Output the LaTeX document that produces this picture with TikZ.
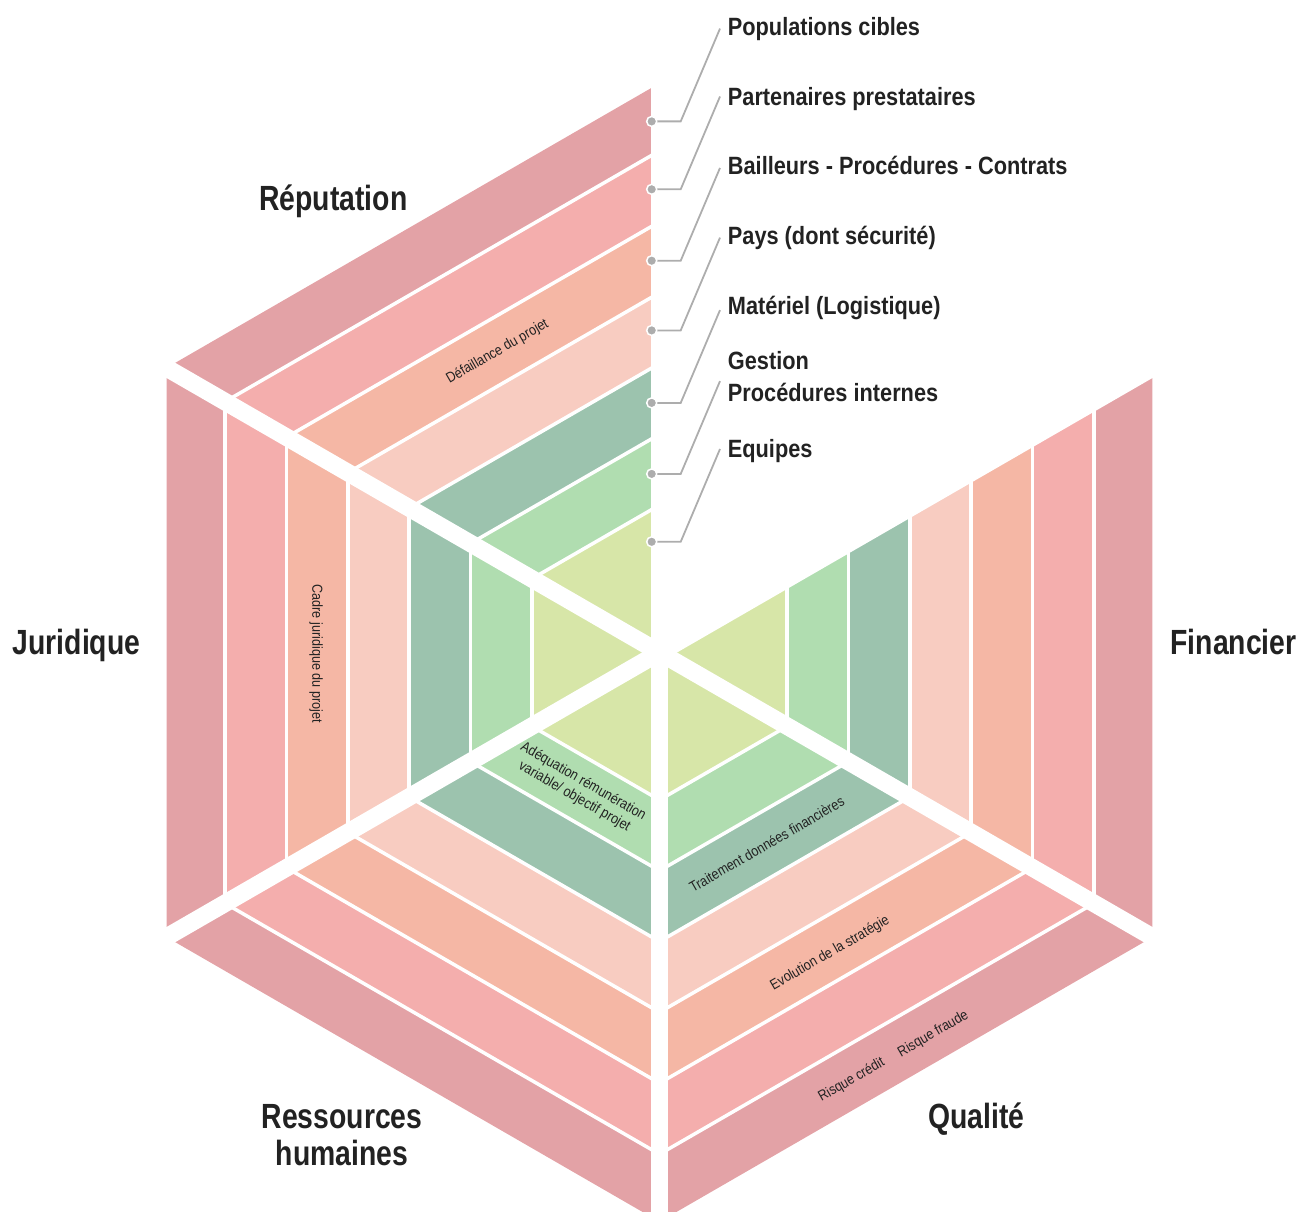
\documentclass[tikz,border=0pt]{standalone}
\usepackage{fontspec}
\setmainfont{Liberation Sans}
\newfontfamily\bigfont[FakeStretch=0.81]{Liberation Sans}
\newfontfamily\midfont[FakeStretch=0.87]{Liberation Sans}
\newfontfamily\smallfont[FakeStretch=0.87]{Liberation Sans}
\definecolor{bandA}{HTML}{E3A2A6}
\definecolor{bandB}{HTML}{F4AEAD}
\definecolor{bandC}{HTML}{F5B7A5}
\definecolor{bandD}{HTML}{F8CCC1}
\definecolor{bandE}{HTML}{9CC3AE}
\definecolor{bandF}{HTML}{B0DDB0}
\definecolor{bandG}{HTML}{D7E6A8}
\definecolor{dotgray}{HTML}{ADADAD}
\definecolor{ink}{HTML}{222222}
\begin{document}
\begin{tikzpicture}[x=1pt,y=1pt,
  biglabel/.style={font=\bigfont\bfseries\fontsize{35}{37.4}\selectfont, text=ink, inner sep=0pt, align=center, anchor=base},
  midlabel/.style={font=\midfont\bfseries\fontsize{25}{32.2}\selectfont, text=ink, inner sep=0pt, anchor=base west, align=left},
  smalllabel/.style={font=\smallfont\fontsize{14.5}{17.5}\selectfont, text=ink, inner sep=0pt, align=center},
  ldot/.style={circle, fill=dotgray, draw=white, line width=1.5pt, inner sep=0pt, minimum size=10pt},
  conn/.style={draw=dotgray, line width=1.8pt},
  bandsep/.style={white, line width=3.5pt},
  radgap/.style={white, line width=17.5pt}
]
\useasboundingbox (0,-1212) rectangle (1298,0);
\clip (0,-1212) rectangle (1298,0);
\begin{scope}[shift={(659.5,-652.5)}]
  \foreach \sa in {90,150,210,270,330}{
    \foreach \ain/\aout/\col in {0/127.7/bandG, 127.7/189/bandF, 189/250.3/bandE, 250.3/311.6/bandD, 311.6/373/bandC, 373/434.5/bandB, 434.5/493/bandA}{
      \fill[\col] (\sa:{\aout/cos(30)}) -- ({\sa+60}:{\aout/cos(30)}) -- ({\sa+60}:{\ain/cos(30)}) -- (\sa:{\ain/cos(30)}) -- cycle;
    }
    \foreach \a in {127.7,189,250.3,311.6,373,434.5}{
      \draw[bandsep] (\sa:{\a/cos(30)}) -- ({\sa+60}:{\a/cos(30)});
    }
  }
  \foreach \ang in {30,90,150,210,270,330}{
    \draw[radgap] (0,0) -- (\ang:{493/cos(30)+3});
  }
\end{scope}

% connectors
\foreach \i/\yd in {1/121.4, 2/189.3, 3/260.7, 4/330.4, 5/402.9, 6/473.9, 7/541.8}{
  \coordinate (p\i) at (651.7,-\yd);
  \coordinate (b\i) at (680.7,-\yd);
  \coordinate (e\i) at (720,{-\yd+92.8});
  \draw[conn] (p\i) -- (b\i) -- (e\i);
  \node[ldot] (d\i) at (p\i) {};
}

\node[midlabel] (l1) at (727.7,-35.7) {Populations cibles};
\node[midlabel] (l2) at (727.7,-105.4) {Partenaires prestataires};
\node[midlabel] (l3) at (727.7,-175) {Bailleurs - Procédures - Contrats};
\node[midlabel] (l4) at (727.7,-244.6) {Pays (dont sécurité)};
\node[midlabel] (l5) at (727.7,-314.3) {Matériel (Logistique)};
\node[midlabel] (l6) at (727.7,-401.8) {Gestion\\Procédures internes};
\node[midlabel] (l7) at (727.7,-457.9) {Equipes};

\node[biglabel] (rep) at (333.3,-210.7) {Réputation};
\node[biglabel] (jur) at (76.5,-654) {Juridique};
\node[biglabel] (fin) at (1233.5,-654) {Financier};
\node[biglabel] (rh) at (342,-1165.7) {Ressources\\humaines};
\node[biglabel] (qua) at (976.2,-1128.3) {Qualité};

\node[smalllabel, rotate=30] (t1) at (497.5,-351.7) {Défaillance du projet};
\node[smalllabel, rotate=-90] (t2) at (316,-653.7) {Cadre juridique du projet};
\node[smalllabel, rotate=-30] (t3) at (578.8,-789.2) {Adéquation rémunération\\variable/ objectif projet};
\node[smalllabel, rotate=30] (t4) at (766.7,-844.2) {Traitement données financières};
\node[smalllabel, rotate=30] (t5) at (830,-953.3) {Evolution de la stratégie};
\node[smalllabel, rotate=30] (t6) at (851.7,-1080) {Risque crédit};
\node[smalllabel, rotate=30] (t7) at (933.3,-1034.2) {Risque fraude};
\end{tikzpicture}
\end{document}
